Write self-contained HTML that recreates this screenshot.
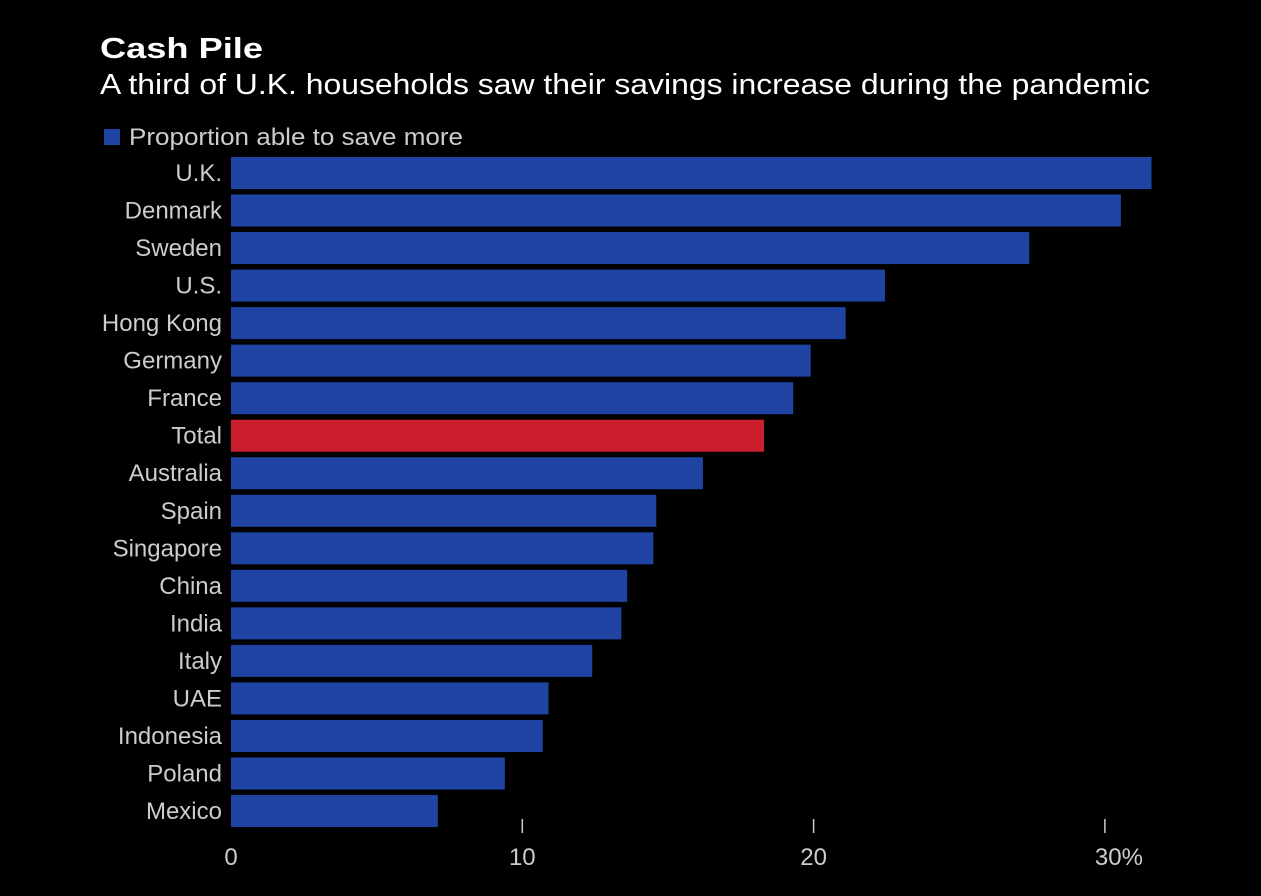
<!DOCTYPE html>
<html><head><meta charset="utf-8"><style>
html,body{margin:0;padding:0;background:#000;}
svg{display:block;font-family:"Liberation Sans",sans-serif;}
</style></head><body>
<svg id="chart" width="1261" height="896" viewBox="0 0 1261 896">
<rect width="1261" height="896" fill="#000"/>
<text x="100" y="58" fill="#fff" font-size="29" font-weight="bold" textLength="163" lengthAdjust="spacingAndGlyphs">Cash Pile</text>
<text x="100" y="94" fill="#fff" font-size="29" textLength="1050" lengthAdjust="spacingAndGlyphs">A third of U.K. households saw their savings increase during the pandemic</text>
<rect x="104" y="129" width="16" height="16" fill="#1f44a3"/>
<text x="129" y="145" fill="#ccc" font-size="24" textLength="334" lengthAdjust="spacingAndGlyphs">Proportion able to save more</text>
<g id="bars"></g><g id="axis"></g>
</svg>
<script>
const categories=["U.K.","Denmark","Sweden","U.S.","Hong Kong","Germany","France","Total","Australia","Spain","Singapore","China","India","Italy","UAE","Indonesia","Poland","Mexico"];
const values=[31.6,30.55,27.4,22.45,21.1,19.9,19.3,18.3,16.2,14.6,14.5,13.6,13.4,12.4,10.9,10.7,9.4,7.1];
const ticks=[0,10,20,30];
const tickLabels=["0","10","20","30%"];
const NS="http://www.w3.org/2000/svg";
const x0=231, pxPer=29.13, y0=157, step=37.53, bh=32;
const xs=v=>x0+v*pxPer;
const ys=i=>y0+i*step;
const bars=document.getElementById('bars'), axis=document.getElementById('axis');
categories.forEach((c,i)=>{
  const r=document.createElementNS(NS,'rect');
  
  
  r.setAttribute('x',x0);r.setAttribute('y',ys(i));
  r.setAttribute('width',xs(values[i])-x0);r.setAttribute('height',bh);
  r.setAttribute('fill',c==="Total"?"#cc1f2e":"#1f44a3");
  bars.appendChild(r);
  const t=document.createElementNS(NS,'text');
  
  
  t.setAttribute('x',222);t.setAttribute('y',ys(i)+bh/2+8);
  t.setAttribute('text-anchor','end');t.setAttribute('fill','#ccc');t.setAttribute('font-size','24');
  t.textContent=c;bars.appendChild(t);
});
ticks.forEach((v,i)=>{
  if(v>0){const l=document.createElementNS(NS,'line');
  
  
  l.setAttribute('x1',xs(v));l.setAttribute('x2',xs(v));l.setAttribute('y1',819);l.setAttribute('y2',833);
  l.setAttribute('stroke','#ccc');l.setAttribute('stroke-width','1.5');axis.appendChild(l);}
  const t=document.createElementNS(NS,'text');
  
  
  t.setAttribute('x',xs(v)+(i===ticks.length-1?14:0));t.setAttribute('y',865);
  t.setAttribute('text-anchor','middle');t.setAttribute('fill','#ccc');t.setAttribute('font-size','24');
  t.textContent=tickLabels[i];axis.appendChild(t);
});
</script>
</body></html>
